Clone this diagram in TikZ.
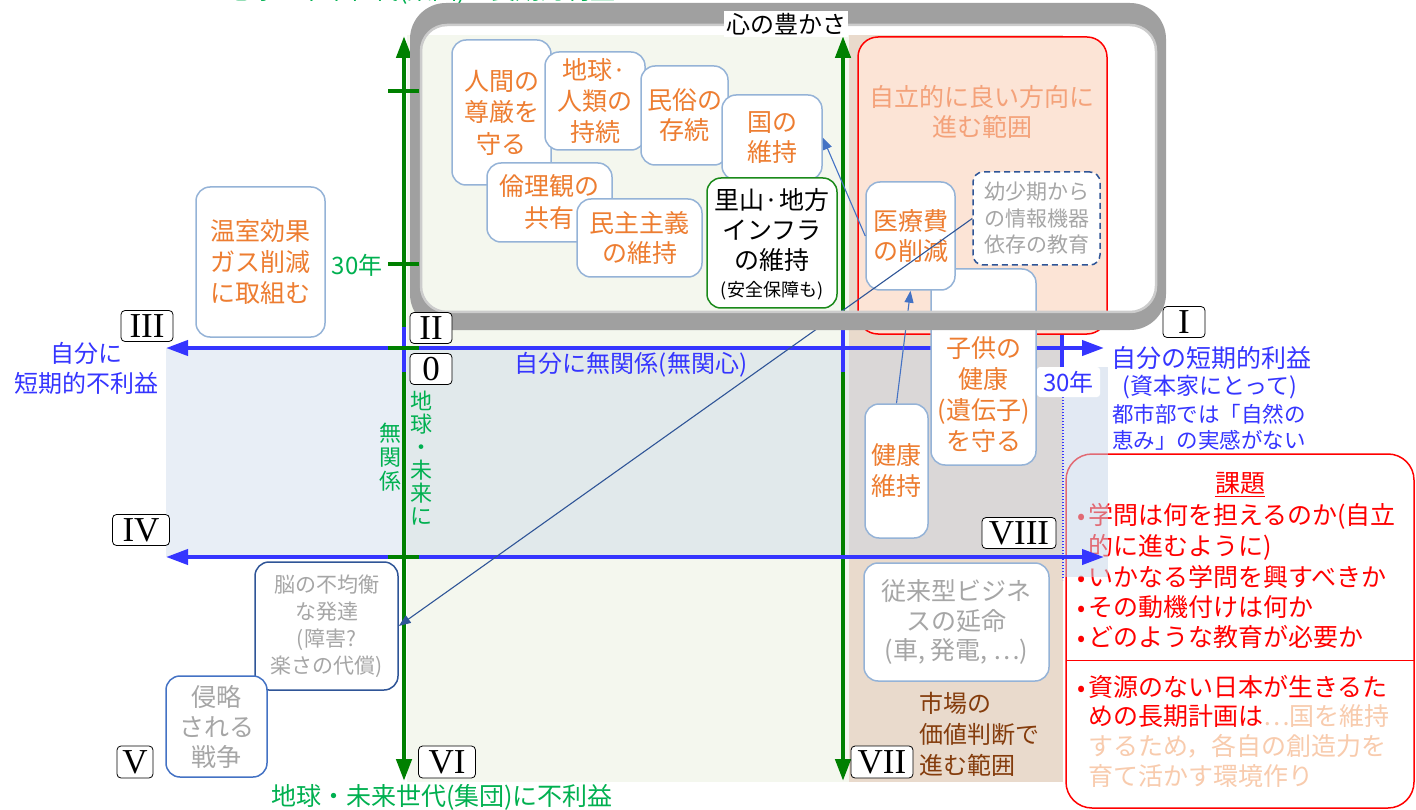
\documentclass[tikz,border=0pt]{standalone}
\usepackage{fontspec}
\setmainfont{Noto Sans CJK JP}
\newfontfamily\romfont{Liberation Serif}
\usetikzlibrary{arrows.meta}
\definecolor{lbstroke}{HTML}{95B3D7}
\definecolor{orng}{HTML}{ED7D31}
\definecolor{gtext}{HTML}{A6A6A6}
\definecolor{bl}{HTML}{3535FF}
\definecolor{grn}{HTML}{008000}
\definecolor{gtxt}{HTML}{00B050}
\definecolor{brwn}{HTML}{843C0C}
\definecolor{peachfill}{HTML}{FCE4D6}
\definecolor{peachtxt}{HTML}{F8CBAD}
\definecolor{salmon}{HTML}{F4A27A}
\definecolor{dblue}{HTML}{2F5597}
\definecolor{mblue}{HTML}{4472C4}
\definecolor{lgreen}{HTML}{F4F7EE}
\definecolor{beige}{HTML}{E9DACC}
\definecolor{bandc}{RGB}{197,212,232}
\definecolor{framegray}{HTML}{A0A0A0}
\definecolor{sgreen}{HTML}{1A8A1A}
\newcommand{\jpf}[2]{\fontsize{#1}{#2}\selectfont}
\newcommand{\bul}{\makebox[14pt][c]{\jpf{24}{24}•}}
\begin{document}
\begin{tikzpicture}[x=1pt,y=-1pt,
  bx/.style={draw=lbstroke, line width=1.5pt, fill=white, rounded corners=14pt, align=center, inner sep=0pt, text=orng, font={\jpf{25}{31}}},
  txt/.style={inner sep=0pt, align=center},
  rom/.style={draw=black, line width=0.8pt, fill=white, rounded corners=4pt, inner sep=0pt, minimum height=31pt, font={\romfont\jpf{35}{35}}},
  conn/.style={draw=mblue, line width=1.1pt, -{Triangle[length=12pt,width=9pt]}},
  gaxis/.style={draw=grn, line width=4.5pt, {Triangle[length=22pt,width=15pt]}-{Triangle[length=22pt,width=15pt]}},
  baxis/.style={draw=bl, line width=4pt, {Triangle[length=22pt,width=15pt]}-{Triangle[length=22pt,width=15pt]}},
  kt/.style={anchor=west, inner sep=0pt, text=red, font={\jpf{25}{30}}}
]
\useasboundingbox (0,0) rectangle (1416,810);
% background regions
\fill[lgreen] (407,35) rectangle (849,782);
\fill[beige] (849,35) rectangle (1063,782);
\fill[bandc, fill opacity=0.4] (166,348) rectangle (1063,557);

% red region
\node[draw=red, line width=1.5pt, fill=peachfill, rounded corners=20pt, minimum width=249pt, minimum height=297pt, inner sep=0pt] (redbox) at (982.5,185.5) {};
\node[txt, text=salmon, font={\jpf{25}{30}}] (redT) at (982,112) {自立的に良い方向に\\進む範囲};

% kadai box
\node[draw=red, line width=1.5pt, fill=white, rounded corners=26pt, minimum width=348pt, minimum height=354pt, inner sep=0pt] (kadai) at (1240,631) {};
\coordinate (divL) at (1066,660);
\coordinate (divR) at (1414,660);
\draw[red, line width=1pt] (divL) -- (divR);
\node[txt, text=red, font={\jpf{25}{30}}] (kadaiT) at (1240,483) {課題};
\draw[red, line width=1.2pt] ([yshift=-2pt]kadaiT.south west) -- ([yshift=-2pt]kadaiT.south east);
\node[kt] (k1) at (1074,516) {\bul 学問は何を担えるのか(自立};
\node[kt] (k2) at (1088,547) {的に進むように)};
\node[kt] (k3) at (1074,577) {\bul いかなる学問を興すべきか};
\node[kt] (k4) at (1074,607) {\bul その動機付けは何か};
\node[kt] (k5) at (1074,637) {\bul どのような教育が必要か};
\node[kt] (k6) at (1074,687) {\bul 資源のない日本が生きるた};
\node[kt] (k7) at (1088,716) {めの長期計画は{\color{peachtxt}⋯国を維持}};
\node[kt, text=peachtxt] (k8) at (1088,746) {するため，各自の創造力を};
\node[kt, text=peachtxt] (k9) at (1088,776) {育て活かす環境作り};

% band overlay on the right
\fill[bandc, fill opacity=0.5] (1063,367) rectangle (1108,577);
\draw[bl, line width=1.3pt, dash pattern=on 1.3pt off 1.7pt] (1063,397) -- (1063,580);

% axes
\coordinate (gLt) at (404,36);
\coordinate (gLb) at (404,781);
\coordinate (gRt) at (843,36);
\coordinate (gRb) at (843,781);
\coordinate (b1l) at (166,348);
\coordinate (b1r) at (1104,348);
\coordinate (b2l) at (166,557);
\coordinate (b2r) at (1104,557);
\draw[gaxis] (gLt) -- (gLb);
\draw[gaxis] (gRt) -- (gRb);
\draw[baxis] (b1l) -- (b1r);
\draw[baxis] (b2l) -- (b2r);
\draw[bl, line width=4.5pt] (404,327) -- (404,372);
\draw[bl, line width=4.5pt] (843,327) -- (843,372);
\draw[bl, line width=4pt] (1062,335) -- (1062,368);
\draw[grn, line width=4pt] (388,348) -- (419,348);
\draw[grn, line width=4pt] (388,557) -- (419,557);

% axis texts
\node[txt, text=bl, font={\jpf{24}{30}}] (leftT) at (86,368) {自分に\\短期的不利益};
\node[txt, text=bl, font={\jpf{24}{30}}] (zeroT) at (631,365) {自分に無関係(無関心)};
\node[txt, text=bl, font={\jpf{25}{30}}] (r1) at (1211,358) {自分の短期的利益};
\node[txt, text=bl, font={\jpf{23}{28}}] (r2) at (1210,387) {(資本家にとって)};
\node[txt, text=bl, font={\jpf{21.5}{26}}] (r3) at (1209,414) {都市部では「自然の};
\node[txt, text=bl, font={\jpf{21.5}{26}}] (r4) at (1209,440) {恵み」の実感がない};
\node[txt, text=gtxt, font={\jpf{22}{23}}] (vt1) at (421,458) {地\\球\\・\\未\\来\\に};
\node[txt, text=gtxt, font={\jpf{22}{24}}] (vt2) at (390,457) {無\\関\\係};
\node[txt, text=gtxt, font={\jpf{25}{30}}] (botT) at (442,797) {地球・未来世代(集団)に不利益};
\node[txt, text=gtxt, font={\jpf{25}{30}}] (topT) at (420,-9) {地球・未来世代(集団)の長期的利益};
\node[txt, text=gtxt, font={\jpf{24}{30}}] (g30) at (357,265) {30年};
\node[fill=white, rounded corners=3pt, text=bl, minimum width=63pt, minimum height=30pt, inner sep=0pt, font={\jpf{24}{30}}] (b30) at (1068.5,382) {30年};

% boxes
\node[bx, minimum width=129pt, minimum height=150pt] (onshitsu) at (260.5,262) {温室効果\\ガス削減\\に取組む};
\node[bx, minimum width=99pt, minimum height=145pt, font={\jpf{25}{31.5}}] (ningen) at (501.5,112.5) {人間の\\尊厳を\\守る};
\node[bx, minimum width=100pt, minimum height=98pt] (chikyu) at (595,101) {地球·\\人類の\\持続};
\node[bx, minimum width=87pt, minimum height=99pt, font={\jpf{25}{30}}] (minzoku) at (684.5,115.5) {民俗の\\存続};
\node[bx, minimum width=100pt, minimum height=85pt, font={\jpf{25}{30}}] (kuni) at (772,137.5) {国の\\維持};
\node[bx, minimum width=125pt, minimum height=79pt, font={\jpf{25}{32}}] (rinri) at (549.5,202.5) {倫理観の\\共有};
\node[bx, minimum width=125pt, minimum height=78pt, font={\jpf{25}{30}}] (minshu) at (639.5,238) {民主主義\\の維持};
\node[draw=sgreen, line width=1.5pt, fill=white, rounded corners=14pt, minimum width=130pt, minimum height=130pt, inner sep=0pt] (satoyama) at (772,243) {};
\node[txt, font={\jpf{25}{30}}] (satoT) at (772,230) {里山·地方\\インフラ\\の維持};
\node[txt, font={\jpf{18}{22}}] (satoS) at (772,291) {(安全保障も)};
\node[bx, minimum width=105pt, minimum height=196pt] (kodomo) at (983.5,367) {};
\node[txt, text=orng, font={\jpf{25}{31}}] (kodomoT) at (983.5,395) {子供の\\健康\\(遺伝子)\\を守る};
\node[bx, minimum width=89pt, minimum height=108pt, font={\jpf{25}{30}}] (iryo) at (910.5,236) {医療費\\の削減};
\node[draw=dblue, line width=1.5pt, dash pattern=on 6pt off 4pt, fill=white, rounded corners=10pt, minimum width=127pt, minimum height=93pt, inner sep=0pt, align=center, text=gtext, font={\jpf{21}{26.5}}] (youshou) at (1036.5,218.5) {幼少期から\\の情報機器\\依存の教育};
\node[bx, minimum width=63pt, minimum height=134pt] (kenkou) at (896.5,471) {健康\\維持};
\node[bx, minimum width=185pt, minimum height=118pt, text=gtext, font={\jpf{25}{29.5}}] (juurai) at (956.5,622) {従来型ビジネ\\スの延命\\(車, 発電, ⋯)};
\node[txt, anchor=west, align=left, text=brwn, font={\jpf{24}{31}}] (shijou) at (919,734) {市場の\\価値判断で\\進む範囲};
\node[bx, draw=dblue, minimum width=143pt, minimum height=128pt, text=gtext, font={\jpf{21}{27}}] (nou) at (326.5,626) {脳の不均衡\\な発達\\(障害?\\楽さの代償)};
\node[bx, draw=mblue, minimum width=101pt, minimum height=101pt, text=gtext, font={\jpf{25}{30}}] (shinryaku) at (216.5,726.5) {侵略\\される\\戦争};

% connectors
\draw[conn] (iryo.west) -- (kuni.east);
\draw[conn] (kenkou.north) -- (iryo.south);
\draw[conn, draw=dblue] (youshou.west) -- (nou.east);

% grey frame
\fill[framegray, even odd rule] [rounded corners=36pt] (410,3) rectangle (1166,330) [rounded corners=26pt] (421,25) rectangle (1156,312);
\draw[black!20, line width=2.5pt, rounded corners=26pt] (421,25) rectangle (1156,312);

% ticks on the vertical axis
\draw[grn, line width=4pt] (388,91) -- (419,91);
\draw[grn, line width=4pt] (388,264) -- (419,264);

\node[txt, fill=white, inner sep=2pt, font={\jpf{24}{30}}] (kokoro) at (786,24) {心の豊かさ};

% roman labels
\node[rom, minimum width=52pt] (III) at (147,326) {III};
\node[rom, minimum width=42pt] (II) at (431,328) {II};
\node[rom, minimum width=42pt] (O) at (431,369) {0};
\node[rom, minimum width=42pt] (I) at (1184,322) {I};
\node[rom, minimum width=57pt] (IV) at (141,530) {IV};
\node[rom, minimum width=36pt, minimum height=32pt] (V) at (135,762) {V};
\node[rom, minimum width=57pt, minimum height=32pt] (VI) at (447,762) {VI};
\node[rom, minimum width=62pt, minimum height=32pt] (VII) at (882,762) {VII};
\node[rom, minimum width=74pt] (VIII) at (1019,533) {VIII};
\end{tikzpicture}
\end{document}
